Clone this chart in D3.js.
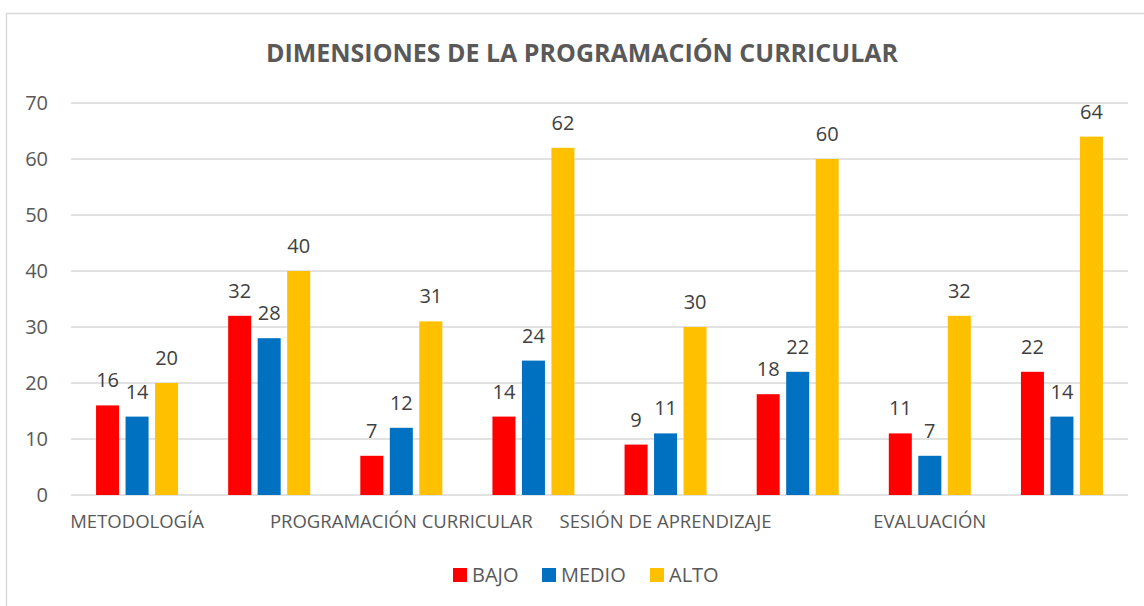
<!DOCTYPE html>
<html>
<head>
<meta charset="utf-8">
<script src="https://cdn.jsdelivr.net/npm/d3@7"></script>
<style>
  body { margin: 0; background: #fff; }
  text { font-family: "Open Sans", "Noto Sans", sans-serif; }
</style>
</head>
<body>
<div class="canvas"></div>
<script>
// chart data
const categories = ['METODOLOGÍA', '', 'PROGRAMACIÓN CURRICULAR', '', 'SESIÓN DE APRENDIZAJE', '', 'EVALUACIÓN', ''];
const seriesNames = ['BAJO', 'MEDIO', 'ALTO'];
const bajo = [16, 32, 7, 14, 9, 18, 11, 22];
const medio = [14, 28, 12, 24, 11, 22, 7, 14];
const alto = [20, 40, 31, 62, 30, 60, 32, 64];
const yTicks = [0, 10, 20, 30, 40, 50, 60, 70];
const colors = ['#FF0000', '#0070C0', '#FFC000'];

const width = 1144, height = 606;
const margin = { top: 103, right: 16, bottom: 111, left: 71 };
const graphWidth = width - margin.left - margin.right;
const graphHeight = height - margin.top - margin.bottom;

const svg = d3.select('.canvas')
    .append('svg')
    .attr('width', width)
    .attr('height', height);

// chart border
svg.append('rect')
    .attr('x', 6.5).attr('y', 13.5)
    .attr('width', width).attr('height', height)
    .attr('fill', 'none')
    .attr('stroke', '#D9D9D9')
    .attr('stroke-width', 1.5);

// title
svg.append('text')
    .attr('x', 582).attr('y', 62)
    .attr('text-anchor', 'middle')
    .attr('font-size', 25)
    .attr('font-weight', 'bold')
    .attr('fill', '#595959')
    .attr('textLength', 632)
    .attr('lengthAdjust', 'spacingAndGlyphs')
    .text('DIMENSIONES DE LA PROGRAMACIÓN CURRICULAR');

const graph = svg.append('g')
    .attr('transform', `translate(${margin.left},${margin.top})`);

// scales
const x = d3.scaleBand()
    .domain(d3.range(categories.length))
    .range([0, graphWidth])
    .padding(0);
const bw = x.bandwidth();
const xSub = d3.scaleBand()
    .domain(seriesNames)
    .range([bw / 2 - 44.25, bw / 2 + 44.25])
    .paddingInner(0.22)
    .paddingOuter(0.11);
const y = d3.scaleLinear().domain([0, 70]).range([graphHeight, 0]);

// gridlines
graph.append('g')
    .selectAll('line')
    .data(yTicks)
    .enter()
    .append('line')
    .attr('x1', 0).attr('x2', graphWidth)
    .attr('y1', d => y(d)).attr('y2', d => y(d))
    .attr('stroke', '#D9D9D9')
    .attr('stroke-width', 1.3);

// y axis labels
const yAxis = d3.axisLeft(y).tickValues(yTicks).tickSize(0).tickPadding(23);
const yAxisGroup = graph.append('g').call(yAxis);
yAxisGroup.select('.domain').remove();
yAxisGroup.selectAll('text')
    .attr('font-size', 20)
    .attr('fill', '#595959')
    .style('font-family', '"Open Sans", sans-serif');

// x axis labels
const xAxis = d3.axisBottom(x).tickSize(0).tickPadding(20).tickFormat(i => categories[i]);
const xAxisGroup = graph.append('g')
    .attr('transform', `translate(0,${graphHeight})`)
    .call(xAxis);
xAxisGroup.select('.domain').remove();
xAxisGroup.selectAll('text')
    .attr('font-size', 18.5)
    .attr('fill', '#595959')
    .style('font-family', '"Open Sans", sans-serif');

// bars
const rows = categories.map((c, i) => ({ i, values: [bajo[i], medio[i], alto[i]] }));
const groups = graph.selectAll('.group')
    .data(rows)
    .enter()
    .append('g')
    .attr('class', 'group')
    .attr('transform', d => `translate(${x(d.i)},0)`);

groups.selectAll('rect')
    .data(d => d.values.map((v, k) => ({ name: seriesNames[k], value: v, k })))
    .enter()
    .append('rect')
    .attr('x', d => xSub(d.name))
    .attr('width', xSub.bandwidth())
    .attr('y', d => y(d.value))
    .attr('height', d => graphHeight - y(d.value))
    .attr('fill', d => colors[d.k]);

// data labels
groups.selectAll('.label')
    .data(d => d.values.map((v, k) => ({ name: seriesNames[k], value: v })))
    .enter()
    .append('text')
    .attr('class', 'label')
    .attr('x', d => xSub(d.name) + xSub.bandwidth() / 2)
    .attr('y', d => y(d.value) - 18)
    .attr('text-anchor', 'middle')
    .attr('font-size', 20)
    .attr('fill', '#404040')
    .text(d => d.value);

// legend
const legendX = [453, 542, 650];
const legend = svg.append('g');
seriesNames.forEach((name, k) => {
    legend.append('rect')
        .attr('x', legendX[k]).attr('y', 568)
        .attr('width', 14).attr('height', 14)
        .attr('fill', colors[k]);
    legend.append('text')
        .attr('x', legendX[k] + 19).attr('y', 582)
        .attr('font-size', 20)
        .attr('fill', '#595959')
        .text(name);
});
</script>
</body>
</html>
